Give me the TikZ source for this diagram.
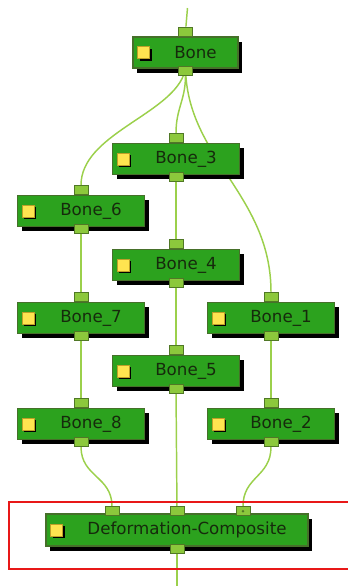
\documentclass[tikz,border=0pt]{standalone}
\usepackage{fontspec}
\setmainfont{DejaVu Sans}
\usetikzlibrary{shadows, backgrounds}
\definecolor{boneGreen}{RGB}{44,162,30}
\definecolor{boneEdge}{RGB}{70,112,42}
\definecolor{portGreen}{RGB}{140,200,60}
\definecolor{portEdge}{RGB}{80,120,38}
\definecolor{wireGreen}{RGB}{155,208,75}
\definecolor{iconYellow}{RGB}{255,228,80}
\definecolor{iconEdge}{RGB}{190,160,40}
\definecolor{labelInk}{RGB}{22,42,12}
\definecolor{frameRed}{RGB}{232,24,24}

\begin{document}
\begin{tikzpicture}[x=0.75pt, y=-0.75pt,
  bone/.style={draw=boneEdge, fill=boneGreen, line width=0.8pt,
               minimum width=95.25pt, minimum height=23.25pt, inner sep=0pt,
               font=\fontsize{12.5}{15}\selectfont, text=labelInk,
               execute at begin node=\hspace*{15pt},
               drop shadow={shadow xshift=3pt, shadow yshift=-3.5pt, fill=black, opacity=1}},
  icon/.style={draw=iconEdge, fill=iconYellow, line width=0.6pt, minimum size=9pt, inner sep=0pt,
               drop shadow={shadow xshift=1.6pt, shadow yshift=-1.6pt, fill=black, opacity=1}},
  port/.style={draw=portEdge, fill=portGreen, line width=0.6pt,
               minimum width=10.5pt, minimum height=6.75pt, inner sep=0pt},
  wire/.style={draw=wireGreen, line width=1.1pt},
]
\useasboundingbox (0,0) rectangle (347,586);
% --- bones ---
\node[bone, minimum width=78.75pt] (bone) at (185.5,52.5) {Bone};
\node[bone] (b3) at (176,159) {Bone\_3};
\node[bone] (b6) at (81,211) {Bone\_6};
\node[bone] (b4) at (176,265) {Bone\_4};
\node[bone] (b7) at (81,318) {Bone\_7};
\node[bone] (b1) at (271,318) {Bone\_1};
\node[bone] (b5) at (176,371) {Bone\_5};
\node[bone] (b8) at (81,424) {Bone\_8};
\node[bone] (b2) at (271,424) {Bone\_2};
\foreach \n in {bone,b3,b4,b5,b6,b7,b8,b1,b2}{
  \node[icon] (\n-icon) at ([xshift=8.5pt]\n.west) {};
  \node[port, anchor=south] (\n-in) at (\n.north) {};
  \node[port, anchor=north] (\n-out) at ([yshift=2.25pt]\n.south) {};
}
% --- composite ---
\node[bone, minimum width=196.5pt, minimum height=24pt] (comp) at (177,530) {Deformation-Composite};
\node[icon] (comp-icon) at ([xshift=8.5pt]comp.west) {};
\node[port, anchor=south] (comp-in1) at ([xshift=-48.75pt, yshift=-2pt]comp.north) {};
\node[port, anchor=south] (comp-in2) at ([yshift=-2pt]comp.north) {};
\node[port, anchor=south] (comp-in3) at ([xshift=49.5pt, yshift=-2pt]comp.north) {};
\fill[portEdge] (comp-in3) circle (1.1pt);
\node[port, anchor=north] (comp-out) at ([yshift=2.25pt]comp.south) {};
\coordinate (feed) at (187.5,8);
\coordinate (drain) at (177,590);
% --- wires ---
\begin{scope}[on background layer]
  \draw[wire] (feed) -- (bone-in);
  \draw[wire] (bone-out) .. controls +(-18,45) and +(0,-55) .. (b6-in);
  \draw[wire] (bone-out) .. controls +(0,30) and +(0,-30) .. (b3-in);
  \draw[wire] (bone-out) .. controls +(6,90) and +(0,-100) .. (b1-in);
  \draw[wire] (b3-out) -- (b4-in);
  \draw[wire] (b4-out) -- (b5-in);
  \draw[wire] (b6-out) -- (b7-in);
  \draw[wire] (b7-out) -- (b8-in);
  \draw[wire] (b1-out) -- (b2-in);
  \draw[wire] (b8-out) .. controls +(0,35) and +(0,-35) .. (comp-in1);
  \draw[wire] (b5-out) -- (comp-in2);
  \draw[wire] (b2-out) .. controls +(0,35) and +(0,-35) .. (comp-in3);
  \draw[wire] (comp-out) -- (drain);
\end{scope}
\draw[frameRed, line width=1.8pt] (9,502) rectangle (355,569);
\end{tikzpicture}
\end{document}
